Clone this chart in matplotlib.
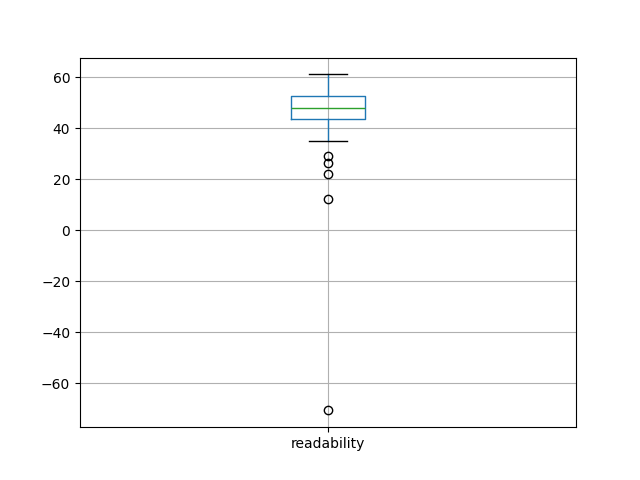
import matplotlib
matplotlib.use("Agg")
import matplotlib.pyplot as plt

labels = ["readability"]
q1 = [43.9]
median = [48.2]
q3 = [52.9]
whisker_low = [34.9]
whisker_high = [61.2]
outliers = [[29.0, 26.3, 22.0, 12.2, -70.6]]

stats = []
for i, lab in enumerate(labels):
    stats.append(dict(label=lab, q1=q1[i], med=median[i], q3=q3[i],
                      whislo=whisker_low[i], whishi=whisker_high[i],
                      fliers=outliers[i]))

fig, ax = plt.subplots(figsize=(6.4, 4.8), dpi=100)
ax.bxp(stats,
       boxprops=dict(color="#1f77b4"),
       whiskerprops=dict(color="#1f77b4"),
       capprops=dict(color="k"),
       medianprops=dict(color="#2ca02c"),
       flierprops=dict(marker="o", markerfacecolor="none", markeredgecolor="k"))
ax.grid(True)
fig.savefig("out.png")
